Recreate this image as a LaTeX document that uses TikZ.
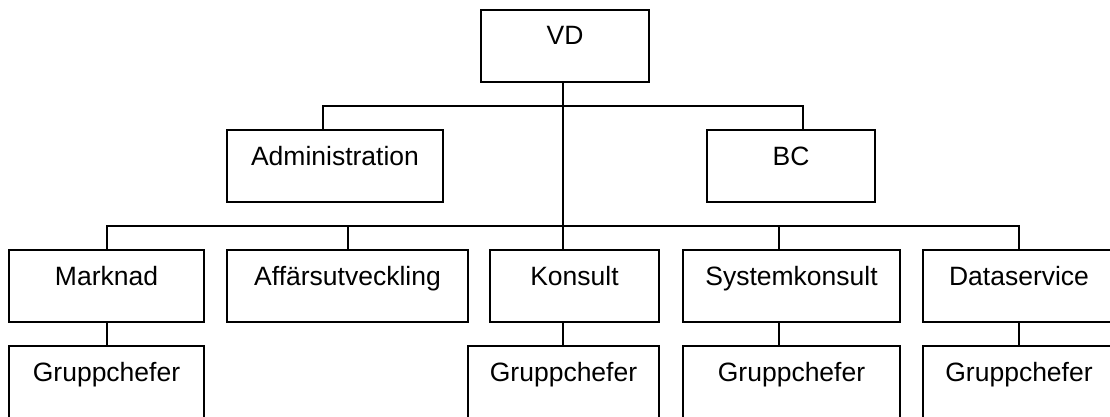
\documentclass[tikz,border=0pt]{standalone}
\usepackage{fontspec}
\setmainfont{Liberation Sans}
\begin{document}
\begin{tikzpicture}[x=1pt,y=-1pt,
  box/.style={draw, line width=1.4pt, inner sep=0pt, text width=#1, align=center,
    text height=35pt, text depth=37pt, font=\fontsize{26.5}{30}\selectfont},
  conn/.style={line width=1.4pt}]
\useasboundingbox[clip] (0,0) rectangle (1110,417);
% top
\node[box=168pt] (vd) at (565,46) {VD};
\node[box=216pt] (adm) at (335,166) {Administration};
\node[box=168pt] (bc) at (791,166) {BC};
% second row
\node[box=195pt] (mark) at (106.5,286) {Marknad};
\node[box=241pt] (aff) at (347.5,286) {Affärsutveckling};
\node[box=169pt] (kon) at (574.5,286) {Konsult};
\node[box=217pt] (sys) at (791.5,286) {Systemkonsult};
\node[box=192pt] (data) at (1019,286) {Dataservice};
% third row
\node[box=195pt] (g1) at (106.5,382) {Gruppchefer};
\node[box=191pt] (g3) at (563.5,382) {Gruppchefer};
\node[box=217pt] (g4) at (791.5,382) {Gruppchefer};
\node[box=192pt] (g5) at (1019,382) {Gruppchefer};
% connector anchor points
\coordinate (h1) at (563,106);
\coordinate (h2) at (563,226);
\coordinate (xa) at (323,0);
\coordinate (xb) at (803,0);
\coordinate (x1) at (107,0);
\coordinate (x2) at (348,0);
\coordinate (x3) at (563,0);
\coordinate (x4) at (779,0);
\coordinate (x5) at (1019,0);
% connectors
\draw[conn] (vd.south -| x3) -- (kon.north -| x3);
\draw[conn] (adm.north -| xa) |- (h1) -| (bc.north -| xb);
\draw[conn] (mark.north -| x1) |- (h2) -| (data.north -| x5);
\draw[conn] (aff.north -| x2) -- (h2 -| x2);
\draw[conn] (sys.north -| x4) -- (h2 -| x4);
\draw[conn] (mark.south -| x1) -- (g1.north -| x1);
\draw[conn] (kon.south -| x3) -- (g3.north -| x3);
\draw[conn] (sys.south -| x4) -- (g4.north -| x4);
\draw[conn] (data.south -| x5) -- (g5.north -| x5);
\end{tikzpicture}
\end{document}
